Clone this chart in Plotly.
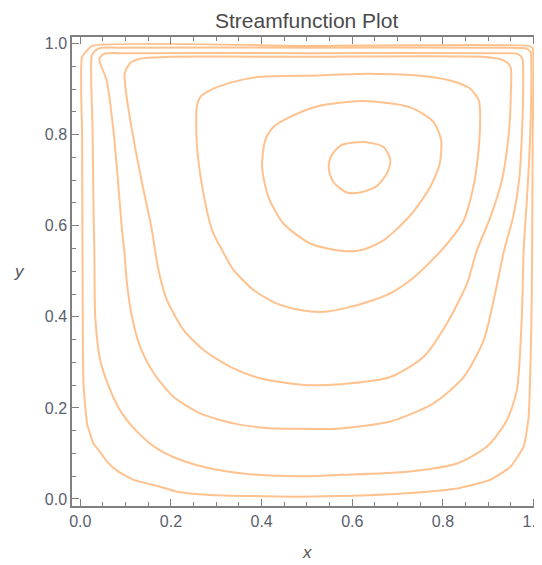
import plotly.graph_objects as go

# ---- data (contour polylines, data coordinates) ----
c1_x = [0.5, 0.99, 0.998, 0.998, 0.997, 0.996, 0.994, 0.989, 0.978, 0.949, 0.904, 0.831, 0.721, 0.6, 0.485,
        0.287, 0.213, 0.176, 0.118, 0.084, 0.059, 0.040, 0.029, 0.015, 0.007, 0.005, 0.004, 0.004, 0.027, 0.5]
c1_y = [0.995, 0.995, 0.99, 0.8, 0.6, 0.45, 0.33, 0.18, 0.115, 0.071, 0.042, 0.023, 0.0125, 0.007, 0.005,
        0.009, 0.016, 0.027, 0.042, 0.060, 0.082, 0.108, 0.122, 0.166, 0.254, 0.5, 0.8, 0.971, 0.995, 0.995]

c2_x = [0.5, 0.9, 0.985, 0.993, 0.995, 0.994, 0.99, 0.984, 0.978, 0.974, 0.963, 0.941, 0.897, 0.831, 0.721,
        0.574, 0.485, 0.368, 0.287, 0.213, 0.169, 0.125, 0.092, 0.066, 0.044, 0.033, 0.031, 0.029, 0.027,
        0.024, 0.026, 0.04, 0.1, 0.5]
c2_y = [0.991, 0.991, 0.989, 0.982, 0.95, 0.85, 0.74, 0.64, 0.546, 0.40, 0.239, 0.173, 0.115, 0.078, 0.060,
        0.053, 0.050, 0.055, 0.067, 0.089, 0.111, 0.148, 0.188, 0.239, 0.305, 0.40, 0.546, 0.65, 0.81,
        0.93, 0.975, 0.989, 0.991, 0.991]

c3_x = [0.5, 0.94, 0.963, 0.975, 0.977, 0.975, 0.968, 0.955, 0.935, 0.912, 0.890, 0.846, 0.779, 0.684, 0.574,
        0.485, 0.412, 0.338, 0.265, 0.206, 0.162, 0.132, 0.114, 0.103, 0.097, 0.092, 0.083, 0.073, 0.058,
        0.042, 0.051, 0.1, 0.5]
c3_y = [0.979, 0.979, 0.978, 0.968, 0.93, 0.82, 0.70, 0.62, 0.546, 0.437, 0.349, 0.268, 0.210, 0.170, 0.155,
        0.154, 0.156, 0.166, 0.188, 0.224, 0.276, 0.334, 0.40, 0.473, 0.546, 0.59, 0.70, 0.81, 0.92,
        0.965, 0.977, 0.979, 0.979]

c4_x = [0.5, 0.9, 0.934, 0.949, 0.950, 0.945, 0.930, 0.905, 0.875, 0.853, 0.809, 0.757, 0.684, 0.596, 0.50,
        0.397, 0.331, 0.272, 0.228, 0.191, 0.173, 0.165, 0.158, 0.135, 0.114, 0.100, 0.098, 0.11, 0.132, 0.2, 0.5]
c4_y = [0.971, 0.970, 0.963, 0.949, 0.90, 0.80, 0.70, 0.62, 0.546, 0.473, 0.386, 0.312, 0.268, 0.254, 0.250,
        0.265, 0.290, 0.327, 0.371, 0.437, 0.50, 0.546, 0.59, 0.70, 0.81, 0.90, 0.935, 0.957, 0.967, 0.971, 0.971]

c5_x = [0.522, 0.632, 0.743, 0.816, 0.860, 0.879, 0.882, 0.878, 0.866, 0.845, 0.80, 0.74, 0.69, 0.647, 0.58,
        0.537, 0.485, 0.434, 0.382, 0.338, 0.313, 0.291, 0.270, 0.257, 0.257, 0.265, 0.287, 0.338, 0.397, 0.522]
c5_y = [0.930, 0.934, 0.930, 0.919, 0.901, 0.876, 0.839, 0.76, 0.68, 0.61, 0.55, 0.49, 0.455, 0.437, 0.418,
        0.411, 0.415, 0.429, 0.459, 0.503, 0.546, 0.59, 0.68, 0.78, 0.861, 0.883, 0.898, 0.916, 0.927, 0.930]

c6_x = [0.625, 0.728, 0.779, 0.796, 0.793, 0.772, 0.728, 0.669, 0.618, 0.574, 0.507, 0.448, 0.415, 0.401,
        0.408, 0.426, 0.463, 0.522, 0.625]
c6_y = [0.874, 0.860, 0.828, 0.788, 0.737, 0.685, 0.623, 0.568, 0.546, 0.545, 0.561, 0.605, 0.663, 0.729,
        0.788, 0.817, 0.839, 0.862, 0.874]

c7_x = [0.625, 0.669, 0.684, 0.677, 0.654, 0.618, 0.588, 0.559, 0.548, 0.552, 0.574, 0.625]
c7_y = [0.784, 0.773, 0.744, 0.716, 0.687, 0.673, 0.673, 0.695, 0.724, 0.750, 0.776, 0.784]

tick_vals = [0.0, 0.2, 0.4, 0.6, 0.8, 1.0]
tick_text = ["0.0", "0.2", "0.4", "0.6", "0.8", "1.0"]

contours = [(c1_x, c1_y, 0.45), (c2_x, c2_y, 0.7), (c3_x, c3_y, 0.7),
            (c4_x, c4_y, 0.7), (c5_x, c5_y, 0.7), (c6_x, c6_y, 0.7),
            (c7_x, c7_y, 0.7)]

line_color = "rgba(255,165,90,0.68)"
frame_color = "#808080"
label_color = "#59606e"

fig = go.Figure()
for cx, cy, smooth in contours:
    fig.add_trace(go.Scatter(
        x=cx, y=cy, mode="lines",
        line=dict(color=line_color, width=2, shape="spline", smoothing=smooth),
        showlegend=False, hoverinfo="skip"))

axis_common = dict(
    tickmode="array", tickvals=tick_vals, ticktext=tick_text,
    ticks="inside", ticklen=7, tickwidth=1.2, tickcolor=frame_color,
    showline=True, linecolor=frame_color, linewidth=1.5, mirror="allticks",
    showgrid=False, zeroline=False, automargin=False, ticklabeloverflow="allow",
    tickfont=dict(family="Liberation Sans", size=16, color=label_color),
    minor=dict(dtick=0.05, tick0=0, ticks="inside", ticklen=4, tickwidth=1, tickcolor=frame_color,
               showgrid=False),
)

# The page body adds an 8 px offset, so the figure is sized 8 px smaller in each direction.
fig.update_layout(
    width=534, height=557,
    margin=dict(l=64, r=1, t=29, b=59, autoexpand=False),
    paper_bgcolor="white", plot_bgcolor="white",
    xaxis=dict(range=[-0.0183, 1.0163], **axis_common),
    yaxis=dict(range=[-0.0154, 1.0145], **axis_common),
    annotations=[
        dict(text="Streamfunction Plot", xref="paper", yref="paper", x=0.5, y=1.036,
             xanchor="center", yanchor="middle", showarrow=False,
             font=dict(family="Liberation Sans", size=21, color="#4a4a4a")),
        dict(text="<i>x</i>", xref="paper", yref="paper", x=0.5, y=-0.100,
             xanchor="center", yanchor="middle", showarrow=False,
             font=dict(family="Liberation Sans", size=17, color="#555555")),
        dict(text="<i>y</i>", xref="paper", yref="paper", x=-0.111, y=0.501,
             xanchor="center", yanchor="middle", showarrow=False,
             font=dict(family="Liberation Sans", size=17, color="#555555")),
    ],
)

fig.write_html("out.html")
